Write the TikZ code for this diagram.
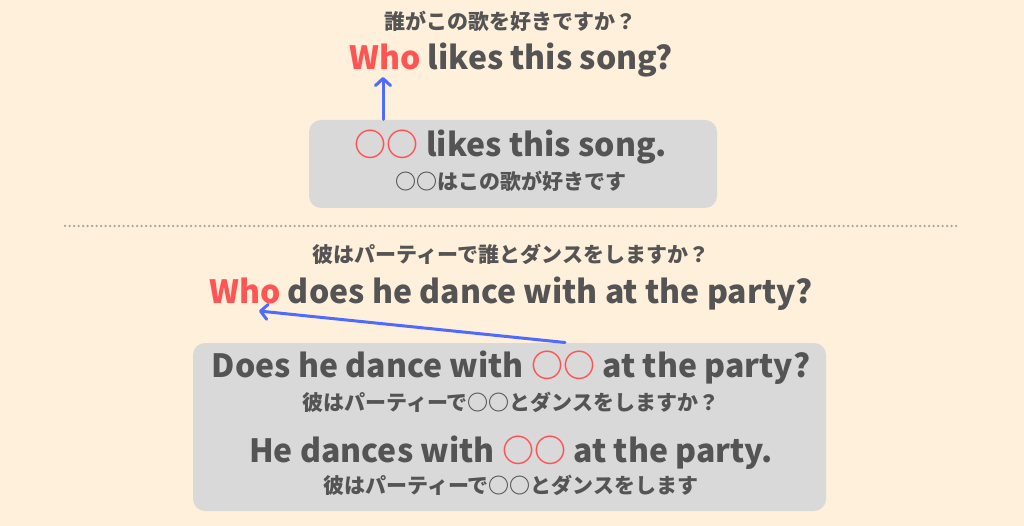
\documentclass[tikz,border=0pt]{standalone}
\usepackage{fontspec}
\setmainfont{Noto Sans CJK JP}
\usetikzlibrary{arrows.meta}
\definecolor{bgcream}{HTML}{FEF0DA}
\definecolor{boxgray}{HTML}{D9D9D9}
\definecolor{inkgray}{HTML}{545454}
\definecolor{hotred}{HTML}{FF5454}
\definecolor{arrowblue}{HTML}{4F6BFF}
\definecolor{dotgray}{HTML}{A8A39C}
\tikzset{
every picture/.style={
line width=1pt
}}
\tikzset{
  en/.style={font=\fontsize{32}{36}\selectfont\bfseries, text=inkgray, anchor=base, inner sep=0pt},
  jp/.style={font=\fontsize{21}{25}\selectfont\bfseries, text=inkgray, anchor=base, inner sep=0pt},
  panel/.style={fill=boxgray, rounded corners=12pt, inner sep=0pt},
  move/.style={draw=arrowblue, line width=3pt, line cap=round,
    -{Straight Barb[length=7pt,width=15pt,round]}}
}
\newcommand{\maru}{\textcolor{hotred}{○○}}

\begin{document}
\begin{tikzpicture}[x=1pt,y=-1pt]
  \fill[bgcream] (0,0) rectangle (1024,526);
  \useasboundingbox (0,0) rectangle (1024,526);

  % top question
  \node[panel, minimum width=408pt, minimum height=88pt] (box1) at (513,164) {};
  \node[jp] (ask1) at (510,30) {誰がこの歌を好きですか？};
  \node[en] (who1) at (511,70) {\textcolor{hotred}{Who} likes this song?};
  \node[en] (base1) at (511,157) {\maru\ likes this song.};
  \node[jp] (tr1) at (511,190) {○○はこの歌が好きです};
  \coordinate (tip1) at (383,77);
  \draw[move] (box1.north -| tip1) -- (tip1);

  \draw[dotgray, line width=2.5pt, dash pattern=on 0pt off 4.5pt, line cap=round] (65,226) -- (960,226);

  % bottom question
  \node[panel, minimum width=633pt, minimum height=168pt] (box2) at (509.5,427) {};
  \node[jp] (ask2) at (511,263) {彼はパーティーで誰とダンスをしますか？};
  \node[en] (who2) at (511,303) {\textcolor{hotred}{Who} does he dance with at the party?};
  \node[en] (base2) at (511,377) {Does he dance with \maru\ at the party?};
  \node[jp] (tr2) at (511,410) {彼はパーティーで○○とダンスをしますか？};
  \node[en] (base3) at (511,462) {He dances with \maru\ at the party.};
  \node[jp] (tr3) at (511,493) {彼はパーティーで○○とダンスをします};
  \coordinate (tail2) at (565,0);
  \coordinate (tip2) at (259,311);
  \draw[move] (box2.north -| tail2) -- (tip2);
\end{tikzpicture}
\end{document}
